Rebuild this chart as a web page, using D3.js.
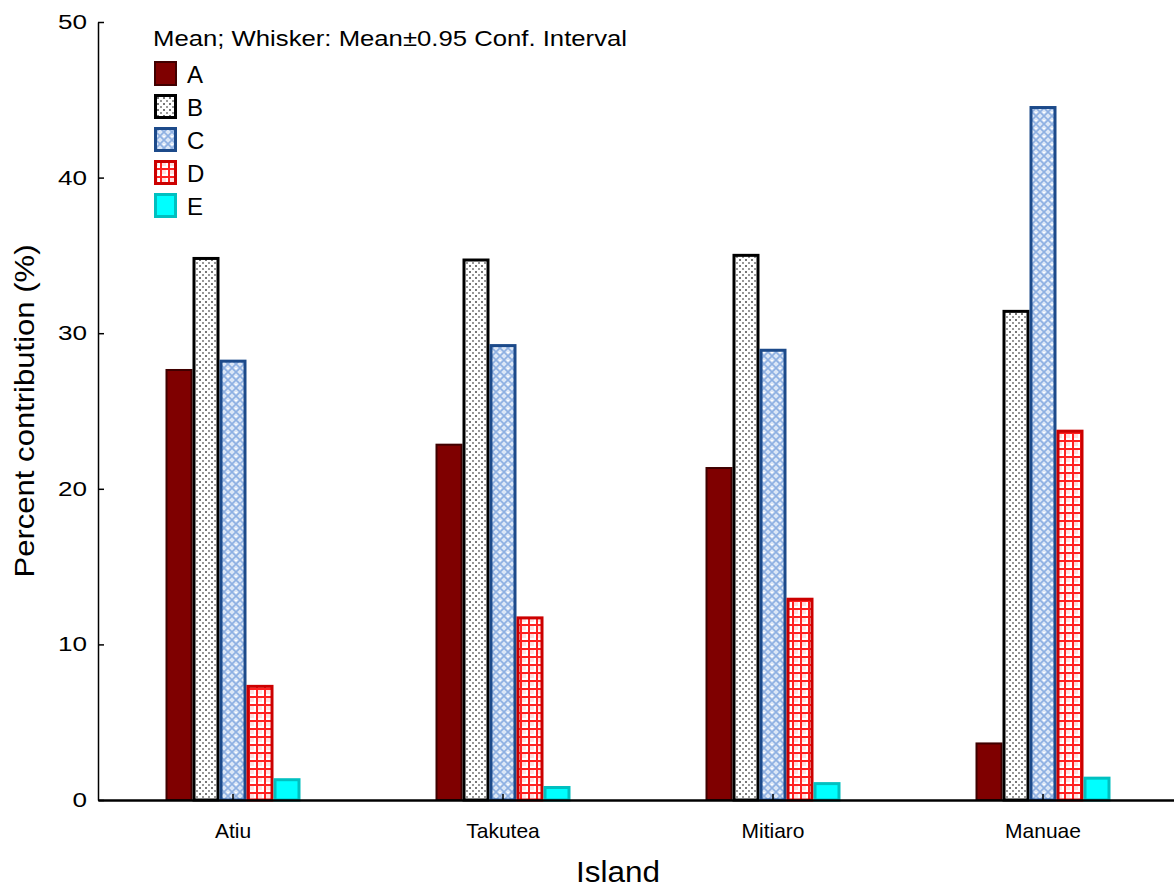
<!DOCTYPE html>
<html><head><meta charset="utf-8">
<script src="https://cdn.jsdelivr.net/npm/d3@7"></script>
<style>body{margin:0;background:#fff}svg{display:block;font-family:Arial,"Liberation Sans",sans-serif}</style>
</head><body><svg id="c" width="1174" height="888"></svg>
<script>
const islands = ["Atiu", "Takutea", "Mitiaro", "Manuae"];
const seriesNames = ["A", "B", "C", "D", "E"];
const valuesA = [27.7, 22.9, 21.4, 3.7];
const valuesB = [34.9, 34.8, 35.1, 31.5];
const valuesC = [28.3, 29.3, 29.0, 44.6];
const valuesD = [7.4, 11.8, 13.0, 23.8];
const valuesE = [1.4, 0.9, 1.15, 1.5];
const yTicks = [0, 10, 20, 30, 40, 50];
const legendTitle = "Mean; Whisker: Mean±0.95 Conf. Interval";

const series = [valuesA, valuesB, valuesC, valuesD, valuesE];
const svg = d3.select("#c");
const defs = svg.append("defs");

// patterns
const pB = defs.append("pattern").attr("id","pB").attr("width",6).attr("height",6).attr("patternUnits","userSpaceOnUse");
pB.append("rect").attr("width",6).attr("height",6).attr("fill","#fff");
pB.append("rect").attr("x",1).attr("y",1).attr("width",2).attr("height",2).attr("fill","#777");
pB.append("rect").attr("x",4).attr("y",4).attr("width",2).attr("height",2).attr("fill","#999");

const pC = defs.append("pattern").attr("id","pC").attr("width",8).attr("height",8).attr("patternUnits","userSpaceOnUse");
pC.append("rect").attr("width",8).attr("height",8).attr("fill","#dce7f7");
pC.append("path").attr("d","M0,0L8,8M8,0L0,8").attr("stroke","#8eb0e2").attr("stroke-width",1.6);
pC.append("rect").attr("x",3).attr("y",0).attr("width",2).attr("height",1).attr("fill","#fff");

const pD = defs.append("pattern").attr("id","pD").attr("width",8).attr("height",8).attr("patternUnits","userSpaceOnUse");
pD.append("rect").attr("width",8).attr("height",8).attr("fill","#fff");
pD.append("rect").attr("x",2).attr("y",2).attr("width",4).attr("height",4).attr("fill","#ffe0e0");
pD.append("rect").attr("x",0).attr("y",0).attr("width",8).attr("height",2).attr("fill","#ff2020");
pD.append("rect").attr("x",0).attr("y",0).attr("width",2).attr("height",8).attr("fill","#ff2020");

const fills = ["#7f0000", "url(#pB)", "url(#pC)", "url(#pD)", "#00ffff"];
const strokes = ["#400000", "#000000", "#1c4a8a", "#cc0000", "#00c0c0"];
const sw = [2, 3, 3, 3, 3];

const x0 = d3.scaleBand().domain(islands).range([98, 1178]).paddingInner(0).paddingOuter(0);
const groupW = 135;
const x1 = d3.scaleBand().domain(seriesNames).range([0, groupW]);
const y = d3.scaleLinear().domain([0, 50]).range([800, 22]);

// bars
islands.forEach((isl, i) => {
  const gx = x0(isl) + x0.bandwidth()/2 - groupW/2;
  seriesNames.forEach((s, j) => {
    const v = series[j][i];
    const bx = gx + x1(s), bw = x1.bandwidth();
    const top = y(v), bot = y(0);
    svg.append("rect")
      .attr("x", bx + sw[j]/2).attr("y", top + sw[j]/2)
      .attr("width", bw - sw[j]).attr("height", Math.max(0, bot - top - sw[j]/2))
      .attr("fill", fills[j]).attr("stroke", strokes[j]).attr("stroke-width", sw[j]);
  });
});

// axes
const yAxis = d3.axisLeft(y).tickValues(yTicks).tickSizeInner(-6).tickSizeOuter(0).tickPadding(11);
const gy = svg.append("g").attr("transform","translate(98,0)").call(yAxis);
gy.select(".domain").attr("stroke","#000").attr("stroke-width",1.5);
gy.selectAll(".tick line").attr("stroke","#000").attr("stroke-width",1.5);
gy.selectAll("text").attr("font-size",20).attr("fill","#000")
  .attr("textLength", d => String(d).length * 14.5).attr("lengthAdjust","spacingAndGlyphs");

const xAxis = d3.axisBottom(x0).tickSizeInner(-6).tickSizeOuter(0).tickPadding(23);
const gx = svg.append("g").attr("transform","translate(0,800)").call(xAxis);
gx.select(".domain").attr("stroke","#000").attr("stroke-width",2.5);
gx.selectAll(".tick line").attr("stroke","#000").attr("stroke-width",1.5);
gx.selectAll("text").attr("font-size",21).attr("fill","#000");

svg.append("text").attr("x",618).attr("y",882).attr("text-anchor","middle").attr("font-size",29)
  .attr("textLength",84).attr("lengthAdjust","spacingAndGlyphs").text("Island");
svg.append("text").attr("transform","translate(34,411) rotate(-90)").attr("text-anchor","middle").attr("font-size",28)
  .attr("textLength",333).attr("lengthAdjust","spacingAndGlyphs").text("Percent contribution (%)");

// legend
svg.append("text").attr("x",153).attr("y",46).attr("font-size",22)
  .attr("textLength",474).attr("lengthAdjust","spacingAndGlyphs").text(legendTitle);
seriesNames.forEach((s, j) => {
  const ly = 61 + j*33;
  svg.append("rect").attr("x",154 + sw[j]/2).attr("y",ly + sw[j]/2).attr("width",23 - sw[j]).attr("height",25 - sw[j])
    .attr("fill",fills[j]).attr("stroke",strokes[j]).attr("stroke-width",sw[j]);
  svg.append("text").attr("x",187).attr("y",ly+22).attr("font-size",24).text(s);
});
</script></body></html>
